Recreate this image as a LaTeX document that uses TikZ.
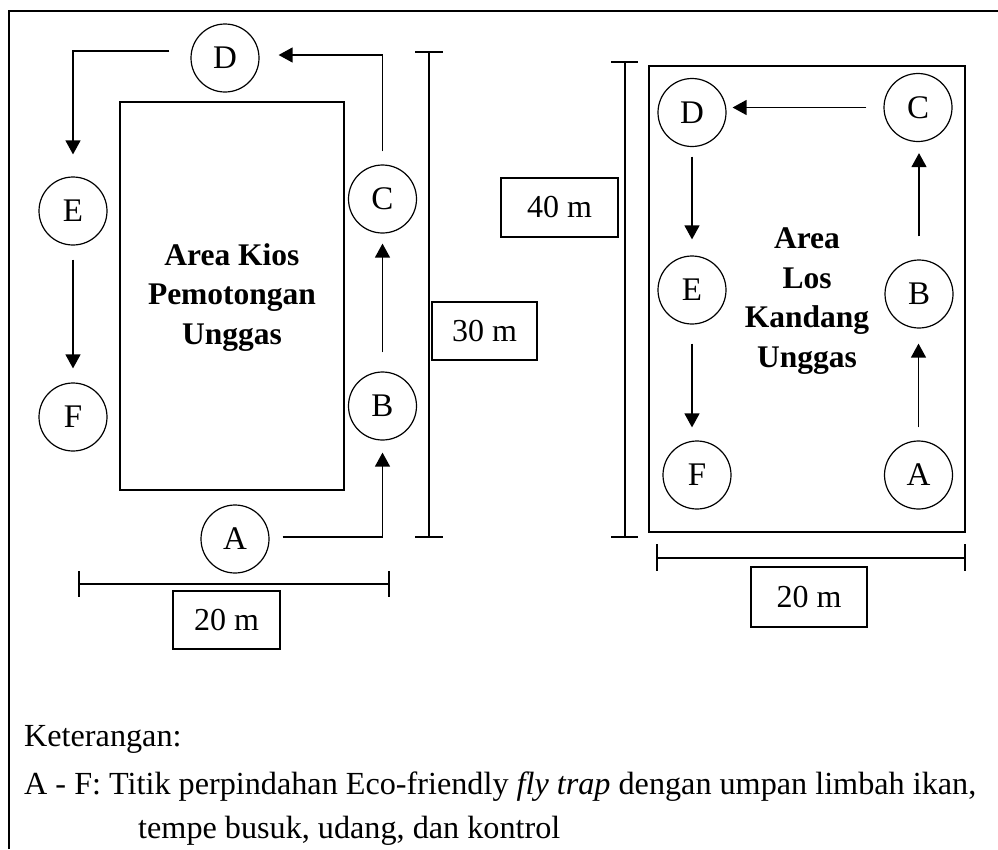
\documentclass[tikz,border=0pt]{standalone}
\usepackage{fontspec}
\setmainfont{Liberation Serif}
\usetikzlibrary{arrows.meta}
\begin{document}
\begin{tikzpicture}[x=1pt,y=-1pt,
  txt/.style={font=\fontsize{32}{39.5}\selectfont},
  pt/.style={draw, circle, line width=1.2pt, minimum size=68pt, inner sep=0pt, font=\fontsize{33}{39.5}\selectfont},
  area/.style={draw, line width=1.2pt},
  arr/.style={line width=1.3pt, -{Triangle[width=15pt,length=14pt]}},
  dim/.style={line width=1.2pt},
  dimbox/.style={draw, line width=1.2pt, inner sep=0pt, txt},
  lbl/.style={align=center, inner sep=0pt, font=\fontsize{31.5}{39.5}\selectfont\bfseries},
  leg/.style={anchor=base west, inner sep=0pt, font=\fontsize{32.2}{39.5}\selectfont}]
\useasboundingbox (0,0) rectangle (998,849);
% frame
\coordinate (fa) at (9,849);
\coordinate (fb) at (9,11);
\coordinate (fc) at (998,11);
\draw[line width=1.8pt] (fa) -- (fb) -- (fc);

% ---------- left panel ----------
\draw[area] (120,102) rectangle (344,490);
\node[lbl] (kios) at (232,297.5) {Area Kios\\Pemotongan\\Unggas};
\node[pt] (D) at (225,58) {D};
\node[pt] (E) at (73,211) {E};
\node[pt] (F) at (73,417) {F};
\node[pt] (C) at (382.5,199) {C};
\node[pt] (B) at (382.5,406) {B};
\node[pt] (A) at (235,539) {A};
\draw[arr, shorten <=13pt, shorten >=19pt] (C.north) |- ([yshift=3pt]D.east);
\draw[arr, shorten <=21pt, shorten >=22pt] ([yshift=7pt]D.west) -| (E.north);
\draw[arr, shorten <=14pt, shorten >=14pt] (E.south) -- (F.north);
\draw[arr, shorten <=19pt, shorten >=10pt] (B.north) -- (C.south);
\draw[arr, shorten <=13pt, shorten >=12pt] ([yshift=2pt]A.east) -| (B.south);

% left width dimension
\coordinate (lw1) at (79,584);
\coordinate (lw2) at (389,584);
\draw[dim] (lw1) -- (lw2);
\draw[dim] ([yshift=13pt]lw1) -- ([yshift=-13pt]lw1);
\draw[dim] ([yshift=13pt]lw2) -- ([yshift=-13pt]lw2);
\node[dimbox, minimum width=107pt, minimum height=58pt] (w20a) at (226.5,620) {20 m};

% left height dimension
\coordinate (lh1) at (429,52);
\coordinate (lh2) at (429,537);
\draw[dim] (lh1) -- (lh2);
\draw[dim] ([xshift=-14pt]lh1) -- ([xshift=14pt]lh1);
\draw[dim] ([xshift=-14pt]lh2) -- ([xshift=14pt]lh2);
\node[dimbox, minimum width=105pt, minimum height=58pt] (h30) at (484.5,331) {30 m};

% ---------- right panel ----------
\draw[area] (649,66) rectangle (965,532);
\node[lbl] (los) at (807,301) {Area\\Los\\Kandang\\Unggas};
\node[pt] (D2) at (692,112.5) {D};
\node[pt] (C2) at (918,107.5) {C};
\node[pt] (E2) at (692,290) {E};
\node[pt] (B2) at (919,294) {B};
\node[pt] (F2) at (697,475) {F};
\node[pt] (A2) at (918.5,475) {A};
\draw[arr, shorten <=17pt, shorten >=6pt] (C2.west) -- (C2.west -| D2.east);
\draw[arr, shorten <=9.5pt, shorten >=16pt] (D2.south) -- (D2.south |- E2.north);
\draw[arr, shorten <=19pt, shorten >=13pt] (E2.south) -- (E2.south |- F2.north);
\draw[arr, shorten <=13pt, shorten >=15pt] (A2.north) -- (A2.north |- B2.south);
\draw[arr, shorten <=23pt, shorten >=11pt] (B2.north) -- (B2.north |- C2.south);

% right height dimension
\coordinate (rh1) at (625,62);
\coordinate (rh2) at (625,537);
\draw[dim] (rh1) -- (rh2);
\draw[dim] ([xshift=-14pt]rh1) -- ([xshift=13pt]rh1);
\draw[dim] ([xshift=-14pt]rh2) -- ([xshift=13pt]rh2);
\node[dimbox, minimum width=117pt, minimum height=59pt] (h40) at (559.5,207.5) {40 m};

% right width dimension
\coordinate (rw1) at (657,558);
\coordinate (rw2) at (965,558);
\draw[dim] (rw1) -- (rw2);
\draw[dim] ([yshift=14pt]rw1) -- ([yshift=-13pt]rw1);
\draw[dim] ([yshift=14pt]rw2) -- ([yshift=-13pt]rw2);
\node[dimbox, minimum width=116pt, minimum height=60pt] (w20b) at (809,597) {20 m};

% ---------- legend ----------
\node[leg] (ket) at (24,746) {Keterangan:};
\node[leg] (l1) at (24,794) {A - F: Titik perpindahan Eco-friendly \textit{fly trap} dengan umpan limbah ikan,};
\node[leg] (l2) at (138,838) {tempe busuk, udang, dan kontrol};
\end{tikzpicture}
\end{document}
